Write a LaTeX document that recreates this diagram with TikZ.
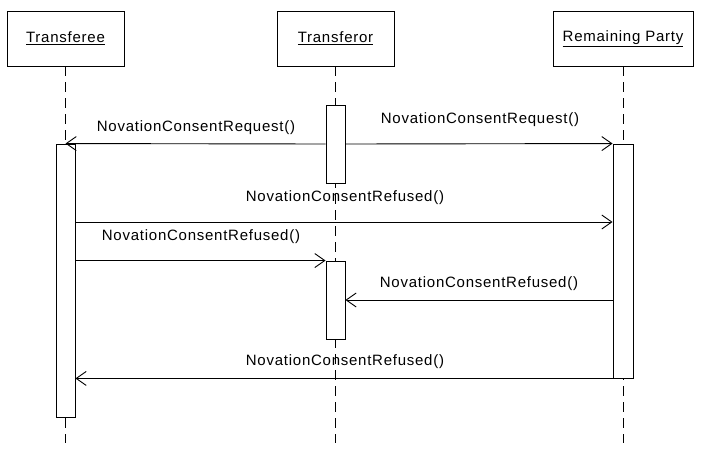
\documentclass[tikz,border=0pt]{standalone}
\usepackage{fontspec}
\setmainfont{Liberation Sans}[LetterSpace=5]
\usetikzlibrary{arrows.meta}
\begin{document}
\begin{tikzpicture}[x=1pt,y=-1pt,
  every node/.style={font=\fontsize{15}{17}\selectfont},
  obj/.style={draw, line width=0.9pt, minimum height=55pt, inner sep=0pt},
  actbar/.style={draw, line width=0.9pt, fill=white, minimum width=19pt, inner sep=0pt},
  life/.style={line width=0.9pt, dash pattern=on 10pt off 6pt},
  msg/.style={line width=0.9pt, -{Straight Barb[length=10pt,width=14pt,line width=0.9pt]}},
  lbl/.style={inner sep=0pt}]
\useasboundingbox (0,0) rectangle (702,458);
\fill[white] (0,0) rectangle (702,458);
% objects
\node[obj, minimum width=117pt] (ee) at (65.5,38.5) {\underline{Transferee}};
\node[obj, minimum width=117pt] (or) at (335.5,38.5) {\underline{Transferor}};
\node[obj, minimum width=140pt] (rp) at (623,38.5) {\underline{Remaining Party}};
% lifeline ends
\coordinate (eeend) at (65.5,443);
\coordinate (orend) at (335.5,443);
\coordinate (rpend) at (623,443);
\draw[life] (ee.south) -- (eeend);
\draw[life] (or.south) -- (orend);
\draw[life] (rp.south) -- (rpend);
% activation bars
\node[actbar, minimum height=273pt] (eebar) at (65.5,280.5) {};
\node[actbar, minimum height=78pt] (tb1) at (335.5,144) {};
\node[actbar, minimum height=78pt] (tb2) at (335.5,300) {};
\node[actbar, minimum width=20pt, minimum height=234pt] (rpbar) at (623,261) {};
% messages
\coordinate (y3) at (0,222);
\draw[msg] (tb1.west) -- (eebar.north);
\draw[msg] (tb1.east) -- (rpbar.north west);
\draw[msg] (eebar.east |- y3) -- (rpbar.west |- y3);
\draw[msg] (eebar.east |- tb2.north) -- (tb2.north west);
\draw[msg] (rpbar.west |- tb2.east) -- (tb2.east);
\draw[msg] (rpbar.south west) -- (eebar.east |- rpbar.south);
% labels
\node[lbl] (l1) at (196,128) {NovationConsentRequest()};
\node[lbl] (l2) at (480,120) {NovationConsentRequest()};
\node[lbl] (l3) at (345,198) {NovationConsentRefused()};
\node[lbl] (l4) at (201,237) {NovationConsentRefused()};
\node[lbl] (l5) at (479,284) {NovationConsentRefused()};
\node[lbl] (l6) at (345,362) {NovationConsentRefused()};
\end{tikzpicture}
\end{document}
